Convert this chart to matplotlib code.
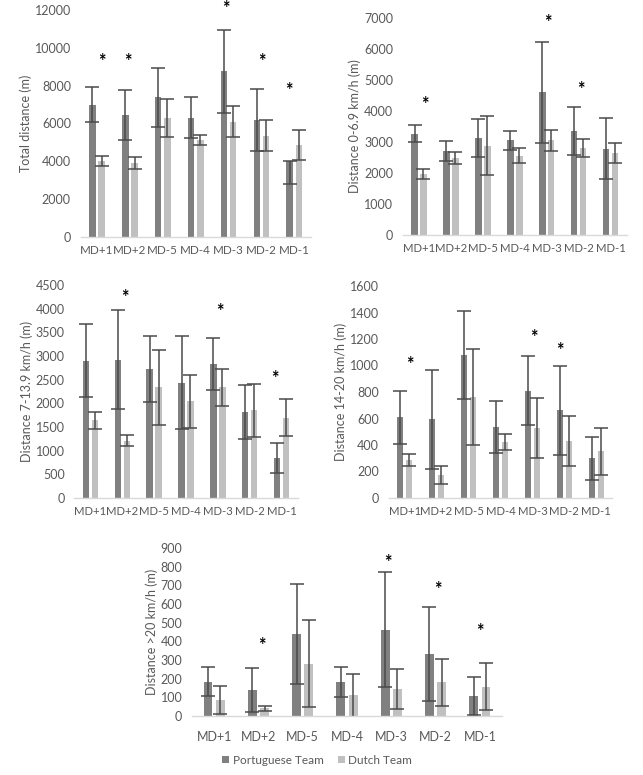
import matplotlib
matplotlib.use("Agg")
import matplotlib.pyplot as plt
import numpy as np

plt.rcParams['font.family'] = ['Lato', 'DejaVu Sans']

categories = ["MD+1", "MD+2", "MD-5", "MD-4", "MD-3", "MD-2", "MD-1"]
series_names = ["Portuguese Team", "Dutch Team"]

# Total distance (m)
total_port = [7000, 6450, 7400, 6300, 8750, 6200, 4040]
total_port_sd_lo = [930, 1340, 1560, 1090, 2180, 1630, 1220]
total_port_sd_hi = [930, 1340, 1560, 1090, 2180, 1630, 0]
total_dutch = [4000, 3920, 6300, 5120, 6100, 5350, 4860]
total_dutch_sd = [260, 300, 1000, 270, 840, 820, 790]
total_stars = [("MD+1", 9260), ("MD+2", 9260), ("MD-3", 12090), ("MD-2", 9260), ("MD-1", 7760)]

# Distance 0-6.9 km/h (m)
d1_port = [3270, 2720, 3130, 3060, 4600, 3360, 2790]
d1_port_sd = [285, 320, 620, 310, 1630, 770, 970]
d1_dutch = [1970, 2490, 2880, 2560, 3050, 2800, 2640]
d1_dutch_sd = [160, 190, 960, 240, 340, 290, 320]
d1_stars = [("MD+1", 4220), ("MD-3", 6870), ("MD-2", 4680)]

# Distance 7-13.9 km/h (m)
d2_port = [2900, 2920, 2720, 2440, 2830, 1810, 850]
d2_port_sd = [770, 1050, 700, 985, 545, 570, 316]
d2_dutch = [1640, 1210, 2340, 2040, 2340, 1850, 1700]
d2_dutch_sd = [172, 120, 795, 555, 390, 560, 400]
d2_stars = [("MD+2", 4240), ("MD-3", 3950), ("MD-1", 2530)]

# Distance 14-20 km/h (m)
d3_port = [608, 594, 1080, 535, 810, 662, 300]
d3_port_sd = [200, 372, 335, 198, 260, 335, 163]
d3_dutch = [288, 175, 765, 424, 527, 431, 353]
d3_dutch_sd = [45, 68, 362, 60, 227, 188, 178]
d3_stars = [("MD+1", 1008), ("MD-3", 1209), ("MD-2", 1116)]

# Distance >20 km/h (m)
d4_port = [183, 139, 440, 184, 463, 333, 108]
d4_port_sd = [78, 120, 269, 80, 309, 253, 102]
d4_dutch = [86, 41, 280, 110, 147, 180, 158]
d4_dutch_sd = [76, 12, 233, 114, 107, 125, 125]
d4_stars = [("MD+2", 376), ("MD-3", 820), ("MD-2", 677), ("MD-1", 451)]

# style / placement (not data)
star_dx = {
    0: [0.14, -0.05, -0.08, 0.0, -0.17],
    1: [0.17, 0.04, 0.07],
    2: [0.08, 0.06, -0.2],
    3: [0.17, 0.03, -0.14],
    4: [0.08, -0.07, 0.06, 0.0],
}

W, H = 643, 775
fig = plt.figure(figsize=(W / 100, H / 100), dpi=100)

PORT_C = "#808080"
DUTCH_C = "#c0c0c0"
ERR_C = "#4a4a4a"
TXT_C = "#595959"
FS = 9

def px_axes(x0, x1, ytop, y0):
    return fig.add_axes([x0 / W, 1 - y0 / H, (x1 - x0) / W, (y0 - ytop) / H])

panels = [
    dict(rect=(80.6, 310.7, 10, 237), ylim=12000, step=2000, ylabel="Total distance (m)",
         port=total_port, port_err=[total_port_sd_lo, total_port_sd_hi],
         dutch=total_dutch, dutch_err=total_dutch_sd, stars=total_stars, labpad=6, xfs=8.4),
    dict(rect=(403, 626.7, 18, 235), ylim=7000, step=1000, ylabel="Distance 0-6.9 km/h (m)",
         port=d1_port, port_err=d1_port_sd, dutch=d1_dutch, dutch_err=d1_dutch_sd,
         stars=d1_stars, labpad=6, xfs=8.2),
    dict(rect=(74.4, 297.6, 285, 498), ylim=4500, step=500, ylabel="Distance 7-13.9 km/h (m)",
         port=d2_port, port_err=d2_port_sd, dutch=d2_dutch, dutch_err=d2_dutch_sd,
         stars=d2_stars, labpad=6, xfs=8.2),
    dict(rect=(388.7, 612.3, 286, 498), ylim=1600, step=200, ylabel="Distance 14-20 km/h (m)",
         port=d3_port, port_err=d3_port_sd, dutch=d3_dutch, dutch_err=d3_dutch_sd,
         stars=d3_stars, labpad=6, xfs=8.2),
    dict(rect=(192, 502, 548, 716), ylim=900, step=100, ylabel="Distance >20 km/h (m)",
         port=d4_port, port_err=d4_port_sd, dutch=d4_dutch, dutch_err=d4_dutch_sd,
         stars=d4_stars, labpad=11, xfs=9),
]

x = np.arange(len(categories))
bw = 0.2
off = 0.14
for pi, p in enumerate(panels):
    ax = px_axes(*p["rect"])
    ek = dict(ecolor=ERR_C, elinewidth=1.1, capsize=5, capthick=1.1)
    ax.bar(x - off, p["port"], bw, color=PORT_C, yerr=p["port_err"], error_kw=ek,
           label=series_names[0], zorder=2)
    ax.bar(x + off, p["dutch"], bw, color=DUTCH_C, yerr=p["dutch_err"], error_kw=ek,
           label=series_names[1], zorder=2)
    ax.set_xlim(-0.5, len(categories) - 0.5)
    ax.set_ylim(0, p["ylim"])
    ax.set_yticks(np.arange(0, p["ylim"] + 1, p["step"]))
    ax.set_xticks(x)
    ax.set_xticklabels(categories)
    for s in ["top", "right", "left"]:
        ax.spines[s].set_visible(False)
    ax.spines["bottom"].set_color("#d9d9d9")
    ax.spines["bottom"].set_linewidth(1.0)
    ax.tick_params(axis="both", length=0, labelcolor=TXT_C)
    ax.tick_params(axis="x", pad=p["labpad"], labelsize=p["xfs"])
    ax.tick_params(axis="y", pad=7, labelsize=FS)
    ax.set_ylabel(p["ylabel"], fontsize=FS, color=TXT_C, labelpad=2)
    for (cat, yv), dx in zip(p["stars"], star_dx[pi]):
        ax.text(categories.index(cat) + dx, yv, "*", fontsize=13, ha="center", va="center",
                color="black", clip_on=False, fontweight="bold")
    if pi == 4:
        handles, labels = ax.get_legend_handles_labels()
        fig.legend(handles, labels, loc="center", bbox_to_anchor=(317 / W, 1 - 760 / H),
                   ncol=2, frameon=False, fontsize=8.5, handlelength=0.6, handleheight=0.6,
                   handletextpad=0.3, columnspacing=1.2, labelcolor=TXT_C)

fig.savefig("out.png", dpi=100, facecolor="white")
